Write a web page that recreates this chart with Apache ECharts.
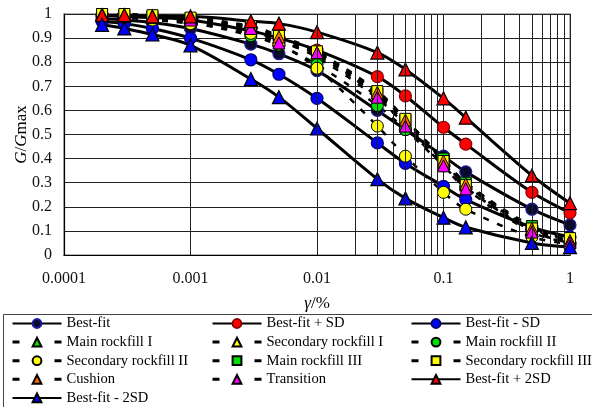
<!DOCTYPE html>
<html>
<head>
<meta charset="utf-8">
<script src="https://cdn.jsdelivr.net/npm/echarts@6/dist/echarts.min.js"></script>
<style>
  html, body { margin: 0; padding: 0; background: #fff; }
  #chart { width: 592px; height: 407px; }
</style>
</head>
<body>
<div id="chart"></div>
<script>
// Shear strain (%) at which G/Gmax was evaluated
const strain = [0.0002, 0.0003, 0.0005, 0.001, 0.003, 0.005, 0.01, 0.03, 0.05, 0.1, 0.15, 0.5, 1];

// Fitted curves
const bestFit      = [0.98, 0.975, 0.965, 0.94, 0.875, 0.835, 0.765, 0.60, 0.52, 0.41, 0.345, 0.19, 0.125];
const bestFitPlus1 = [0.995, 0.99, 0.985, 0.975, 0.93, 0.90, 0.85, 0.74, 0.66, 0.53, 0.46, 0.26, 0.175];
const bestFitMinus1= [0.97, 0.96, 0.94, 0.90, 0.81, 0.75, 0.65, 0.465, 0.38, 0.285, 0.23, 0.115, 0.075];
const bestFitPlus2 = [0.995, 0.995, 0.99, 0.99, 0.97, 0.96, 0.925, 0.84, 0.77, 0.65, 0.57, 0.33, 0.215];
const bestFitMinus2= [0.955, 0.94, 0.915, 0.87, 0.73, 0.655, 0.525, 0.315, 0.235, 0.155, 0.115, 0.05, 0.033];

// Test results per material zone
const mainRockfill1 = [1.0, 0.995, 0.99, 0.98, 0.94, 0.90, 0.83, 0.66, 0.55, 0.39, 0.30, 0.11, 0.06];
const secRockfill1  = [0.995, 0.99, 0.985, 0.97, 0.93, 0.89, 0.82, 0.65, 0.54, 0.38, 0.29, 0.10, 0.055];
const mainRockfill2 = [0.995, 0.99, 0.98, 0.965, 0.91, 0.87, 0.79, 0.62, 0.52, 0.37, 0.28, 0.10, 0.05];
const secRockfill2  = [0.99, 0.985, 0.975, 0.96, 0.92, 0.875, 0.775, 0.535, 0.41, 0.26, 0.19, 0.075, 0.045];
const mainRockfill3 = [1.0, 0.995, 0.99, 0.98, 0.945, 0.905, 0.84, 0.67, 0.56, 0.40, 0.30, 0.12, 0.065];
const secRockfill3  = [1.0, 1.0, 0.995, 0.985, 0.95, 0.91, 0.845, 0.68, 0.565, 0.39, 0.29, 0.11, 0.07];
const cushion       = [1.0, 0.995, 0.99, 0.98, 0.945, 0.905, 0.84, 0.675, 0.56, 0.39, 0.295, 0.11, 0.06];
const transition    = [0.995, 0.99, 0.985, 0.975, 0.94, 0.88, 0.84, 0.655, 0.535, 0.37, 0.275, 0.095, 0.05];

// Axis tick labels
const xTickValues = [0.0001, 0.001, 0.01, 0.1, 1];
const xTickLabels = ['0.0001', '0.001', '0.01', '0.1', '1'];
const yTickLabels = ['0', '0.1', '0.2', '0.3', '0.4', '0.5', '0.6', '0.7', '0.8', '0.9', '1'];

// Minor vertical gridlines (2..9 within each decade)
const minorGrid = [];
for (let d = -4; d < 0; d++) {
  for (let m = 2; m <= 9; m++) minorGrid.push(+(m * Math.pow(10, d)).toPrecision(3));
}

const FONT = "'Liberation Serif', 'Times New Roman', serif";

function pairs(ys) { return strain.map((x, i) => [x, ys[i]]); }

function fitSeries(name, ys, symbol, fill, border, size) {
  return {
    name, type: 'line', data: pairs(ys), smooth: 0.35,
    symbol, symbolSize: size,
    lineStyle: { color: '#000', width: 3 },
    itemStyle: { color: fill, borderColor: border, borderWidth: 1.2 },
    emphasis: { disabled: true }
  };
}
function testSeries(name, ys, symbol, fill, size) {
  return {
    name, type: 'line', data: pairs(ys), smooth: 0.35,
    symbol, symbolSize: size,
    lineStyle: { color: '#000', width: 2.5, type: [6, 9] },
    itemStyle: { color: fill, borderColor: '#000', borderWidth: 1 },
    emphasis: { disabled: true }
  };
}

const series = [
  {
    name: 'grid', type: 'line', data: [], silent: true, z: 1,
    markLine: {
      silent: true, symbol: 'none', animation: false,
      label: { show: false },
      lineStyle: { color: '#222', width: 1, type: 'solid' },
      emphasis: { disabled: true },
      data: minorGrid.map(v => ({ xAxis: v }))
    }
  },
  fitSeries('Best-fit', bestFit, 'circle', '#0a0a2a', '#1c1ca0', 12),
  fitSeries('Best-fit + SD', bestFitPlus1, 'circle', '#ff0000', '#8b0000', 12),
  fitSeries('Best-fit - SD', bestFitMinus1, 'circle', '#0000ff', '#00006b', 12),
  testSeries('Main rockfill I', mainRockfill1, 'triangle', '#00e000', 12),
  testSeries('Secondary rockfill I', secRockfill1, 'triangle', '#ffff00', 12),
  testSeries('Main rockfill II', mainRockfill2, 'circle', '#00e000', 12),
  testSeries('Secondary rockfill II', secRockfill2, 'circle', '#ffff00', 12),
  testSeries('Main rockfill III', mainRockfill3, 'rect', '#00e000', 11),
  testSeries('Secondary rockfill III', secRockfill3, 'rect', '#ffff00', 11),
  testSeries('Cushion', cushion, 'triangle', '#ff6a00', 12),
  testSeries('Transition', transition, 'triangle', '#ff00ff', 12),
  fitSeries('Best-fit + 2SD', bestFitPlus2, 'triangle', '#ff0000', '#000', 13),
  fitSeries('Best-fit - 2SD', bestFitMinus2, 'triangle', '#0000ff', '#000', 13)
];

// Legend columns
const legendCols = [
  ['Best-fit', 'Main rockfill I', 'Secondary rockfill II', 'Cushion', 'Best-fit - 2SD'],
  ['Best-fit + SD', 'Secondary rockfill I', 'Main rockfill III', 'Transition'],
  ['Best-fit - SD', 'Main rockfill II', 'Secondary rockfill III', 'Best-fit + 2SD']
];
const legendLeft = [11, 211, 410];
const fitNames = ['Best-fit', 'Best-fit + SD', 'Best-fit - SD', 'Best-fit + 2SD', 'Best-fit - 2SD'];

const legends = legendCols.map((names, i) => ({
  orient: 'vertical', left: legendLeft[i], top: 316, height: 140, padding: 0,
  itemWidth: 49, itemHeight: 11, itemGap: 3.6,
  selectedMode: false,
  textStyle: { fontFamily: FONT, fontSize: 14.6, color: '#000' },
  data: names.map(n => fitNames.includes(n) ? { name: n } :
    { name: n, lineStyle: { type: [7, 35], width: 3 } })
}));

const chart = echarts.init(document.getElementById('chart'), null, { renderer: 'canvas' });
chart.setOption({
  animation: false,
  backgroundColor: '#fff',
  grid: { left: 64, right: 22, top: 14, bottom: 152, show: true, borderColor: '#999', borderWidth: 1.5 },
  xAxis: {
    type: 'log', logBase: 10, min: 0.0001, max: 1,
    name: '{i|γ}/%', nameLocation: 'middle', nameGap: 40,
    nameTextStyle: {
      fontFamily: FONT, fontSize: 17, color: '#000',
      rich: { i: { fontFamily: FONT, fontSize: 17, fontStyle: 'italic', color: '#000' } }
    },
    axisLine: { show: true, lineStyle: { color: '#000', width: 1.2 } },
    axisTick: { show: false },
    axisLabel: {
      fontFamily: FONT, fontSize: 16, color: '#111', margin: 16,
      formatter: v => { const k = xTickValues.findIndex(t => Math.abs(Math.log10(t) - Math.log10(v)) < 1e-6); return k >= 0 ? xTickLabels[k] : ''; }
    },
    splitLine: { show: true, lineStyle: { color: '#222', width: 1 } }
  },
  yAxis: {
    type: 'value', min: 0, max: 1, interval: 0.1,
    name: '{i|G}/{i|G}max', nameLocation: 'middle', nameGap: 34, nameRotate: 90,
    nameMoveOverlap: false,
    nameTextStyle: {
      fontFamily: FONT, fontSize: 17, color: '#000',
      rich: { i: { fontFamily: FONT, fontSize: 17, fontStyle: 'italic', color: '#000' } }
    },
    axisLine: { show: true, lineStyle: { color: '#000', width: 1.2 } },
    axisTick: { show: false },
    axisLabel: {
      fontFamily: FONT, fontSize: 16, color: '#111', margin: 12,
      formatter: v => yTickLabels[Math.round(v * 10)]
    },
    splitLine: { show: true, lineStyle: { color: '#222', width: 1 } }
  },
  legend: legends,
  graphic: [{
    type: 'rect', left: 1, top: 312, silent: true,
    shape: { width: 600, height: 110 },
    style: { fill: 'none', stroke: '#444', lineWidth: 1 }
  }],
  series
});
</script>
</body>
</html>
